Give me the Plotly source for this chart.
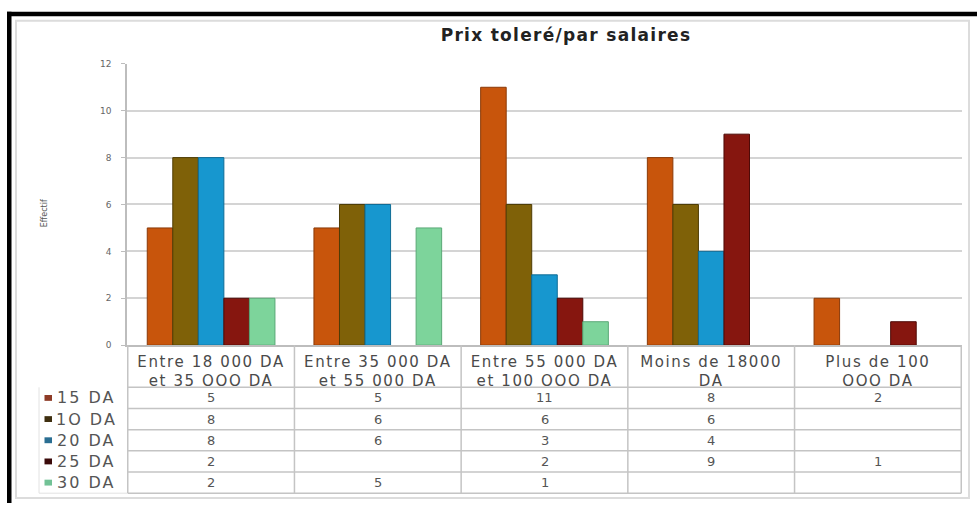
import plotly.graph_objects as go

# Salary brackets (x categories) and tolerated price series
categories = [
    "Entre 18 000 DA<br>et 35 OOO DA",
    "Entre 35 000 DA<br>et 55 000 DA",
    "Entre 55 000 DA<br>et 100 OOO DA",
    "Moins de 18000<br>DA",
    "Plus de 100<br>OOO DA",
]
series_names = ["15 DA", "1O DA", "20 DA", "25 DA", "30 DA"]
s_15 = [5, 5, 11, 8, 2]
s_10 = [8, 6, 6, 6, None]
s_20 = [8, 6, 3, 4, None]
s_25 = [2, None, 2, 9, 1]
s_30 = [2, 5, 1, None, None]
series_values = [s_15, s_10, s_20, s_25, s_30]

y_ticks = [0, 2, 4, 6, 8, 10, 12]

bar_colors = ["#C8550C", "#7F6108", "#1797CF", "#86160F", "#7DD49B"]
edge_colors = ["#8A3A08", "#4E3C05", "#0F6C96", "#4E0A07", "#5AA876"]
key_colors = ["#8E3B26", "#3F2F10", "#2A6E92", "#3B0A0A", "#72C296"]

W, H = 977, 508


def fx(px):
    return px / W


def fy(py):
    return 1 - py / H


FONT = "DejaVu Sans"

fig = go.Figure()
for name, vals, col, edge in zip(series_names, series_values, bar_colors, edge_colors):
    fig.add_trace(go.Bar(
        x=categories, y=vals, name=name,
        marker=dict(color=col, line=dict(color=edge, width=1)),
        showlegend=False,
    ))

# table geometry (pixels)
header_bottom = 390
row_h = 21.6
row_tops = [header_bottom + i * row_h for i in range(len(series_names) + 1)]

shapes = []
# outer light frame
shapes.append(dict(type="rect", xref="paper", yref="paper",
                   x0=fx(16), x1=fx(969), y0=fy(503), y1=fy(16),
                   line=dict(color="#dcdcdc", width=2), fillcolor="rgba(0,0,0,0)"))
# table vertical rules at category boundaries
for i in range(len(categories) + 1):
    shapes.append(dict(type="line", xref="x", yref="paper",
                       x0=i - 0.5, x1=i - 0.5, y0=fy(347), y1=fy(row_tops[-1]),
                       line=dict(color="#c4c4c4", width=1.5)))
# table horizontal rules
for yt in row_tops:
    shapes.append(dict(type="line", xref="x", yref="paper",
                       x0=-0.5, x1=len(categories) - 0.5, y0=fy(yt), y1=fy(yt),
                       line=dict(color="#c4c4c4", width=1.5)))
# key column box
shapes.append(dict(type="line", xref="paper", yref="paper",
                   x0=fx(39), x1=fx(39), y0=fy(header_bottom), y1=fy(row_tops[-1]),
                   line=dict(color="#e2e2e2", width=1)))
shapes.append(dict(type="line", xref="paper", yref="paper",
                   x0=fx(39), x1=fx(127), y0=fy(row_tops[-1]), y1=fy(row_tops[-1]),
                   line=dict(color="#e2e2e2", width=1)))
# dark screenshot edge (top and left)
shapes.append(dict(type="rect", xref="paper", yref="paper",
                   x0=fx(7), x1=1, y0=fy(11.5), y1=fy(7),
                   line=dict(width=0), fillcolor="black"))
shapes.append(dict(type="rect", xref="paper", yref="paper",
                   x0=fx(7), x1=fx(11.5), y0=0, y1=fy(7),
                   line=dict(width=0), fillcolor="black"))

annotations = []
for r, (name, vals, kc) in enumerate(zip(series_names, series_values, key_colors)):
    ym = (row_tops[r] + row_tops[r + 1]) / 2
    yc = fy(ym)
    # colour key square
    shapes.append(dict(type="rect", xref="paper", yref="paper",
                       x0=fx(44.5), x1=fx(52), y0=fy(ym + 3), y1=fy(ym - 3),
                       line=dict(width=0), fillcolor=kc))
    annotations.append(dict(
        xref="paper", yref="paper", x=fx(86), y=yc, xanchor="center", yanchor="middle",
        text=name, showarrow=False,
        font=dict(family=FONT, size=16, color="#555555")))
    for c, v in enumerate(vals):
        if v is None:
            continue
        annotations.append(dict(
            xref="x", yref="paper", x=c, y=yc, xanchor="center", yanchor="middle",
            text=str(v), showarrow=False,
            font=dict(family=FONT, size=13, color="#555555")))

annotations.append(dict(
    xref="paper", yref="paper", x=fx(38), y=fy(213), textangle=-90,
    text="Effectif", showarrow=False, font=dict(family=FONT, size=8, color="#555555")))

fig.update_layout(
    width=W, height=H, autosize=False,
    margin=dict(l=0, r=0, t=0, b=0),
    paper_bgcolor="white", plot_bgcolor="white",
    title=dict(text="<b>Prix toleré/par salaires</b>", x=fx(566), xanchor="center",
               y=fy(35), yanchor="middle",
               font=dict(family=FONT, size=17, color="#222222")),
    barmode="group", bargap=0.234, bargroupgap=0,
    shapes=shapes, annotations=annotations,
    xaxis=dict(domain=[fx(127), fx(962)], type="category",
               showline=True, linecolor="#bdbdbd", linewidth=1.5,
               showgrid=False, ticks="", ticklabelstandoff=2,
               tickfont=dict(family=FONT, size=15, color="#4a4a4a")),
    yaxis=dict(domain=[fy(347), fy(60)], range=[0, 12],
               tickvals=y_ticks, ticktext=[str(t) for t in y_ticks],
               showline=True, linecolor="#bdbdbd", linewidth=1.5,
               ticks="outside", ticklen=4, tickcolor="#bdbdbd",
               ticklabelstandoff=8,
               gridcolor="#d4d4d4", gridwidth=1.5, zeroline=False,
               tickfont=dict(family=FONT, size=9, color="#666666")),
)

# widen the lettering of the title, category labels and key labels
spacing_js = """
var gd = document.querySelector('.plotly-graph-div');
gd.querySelectorAll('.xtick text').forEach(function(t){ t.style.letterSpacing = '1.6px'; });
gd.querySelectorAll('.gtitle').forEach(function(t){ t.style.letterSpacing = '1.3px'; });
gd.querySelectorAll('.annotation-text').forEach(function(t){
  if (t.textContent.indexOf('DA') >= 0) { t.style.letterSpacing = '2px'; }
});
"""

fig.write_html("out.html", post_script=spacing_js)
